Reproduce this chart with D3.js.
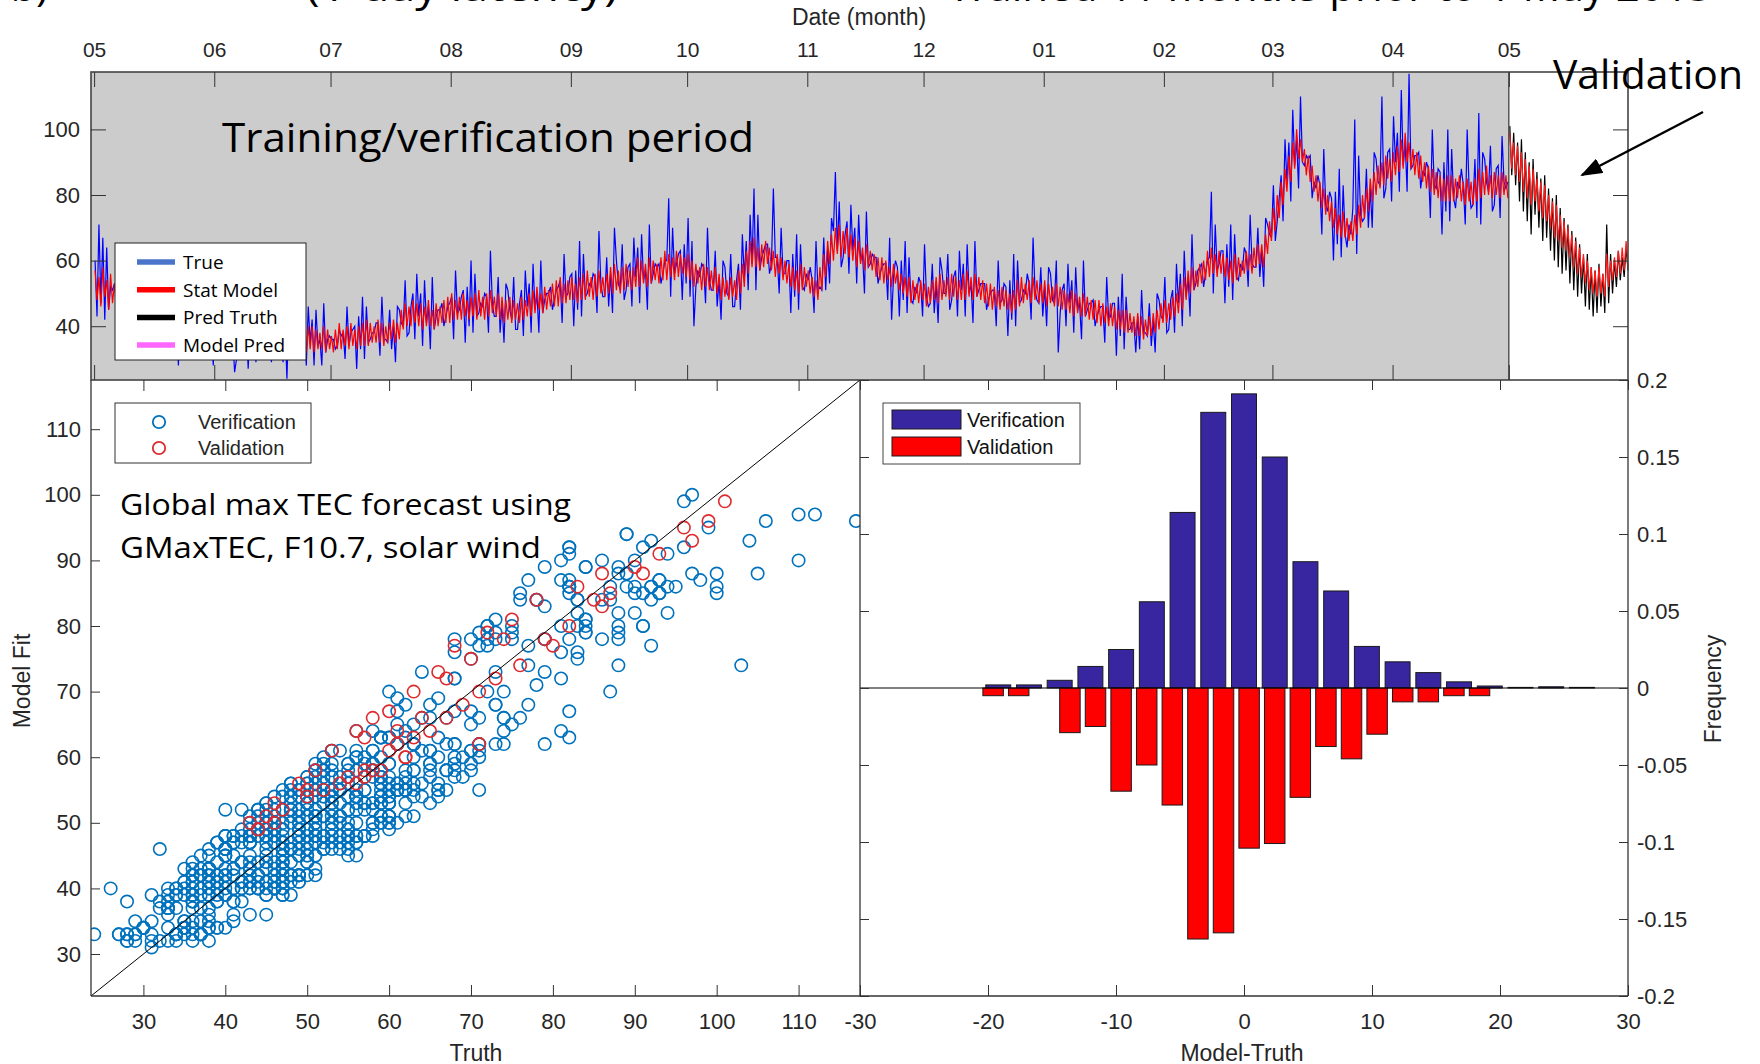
<!DOCTYPE html>
<html>
<head>
<meta charset="utf-8">
<style>
  body { margin: 0; background: #fff; }
  svg text { font-family: "Liberation Sans", Arial, sans-serif; }
  .note { font-family: "Open Sans", "Noto Sans", sans-serif; fill: #000; }
  .axis-title { font-size: 23px; fill: #262626; }
</style>
</head>
<body>
<svg id="chart" width="1760" height="1064"></svg>
<script src="https://d3js.org/d3.v7.min.js"></script>
<script>
// ---- data ----
// top panel: two samples per day, 1 May 2014 .. 30 Apr 2015 (training / verification)
var trueTrain = [
  60,43,71,47,67,42,64,45,52,51,53,50,44,46,
  49,50,52,37,60,47,46,49,53,36,53,41,61,37,
  55,42,41,44,47,49,46,35,58,44,40,40,52,35,
  43,28,48,43,40,38,50,36,36,41,45,33,48,37,
  44,30,47,36,38,28,49,35,38,38,38,37,34,35,
  39,37,26,30,45,34,38,39,41,27,41,31,47,29,
  44,33,34,36,36,38,39,29,47,34,33,31,42,29,
  40,24,44,40,36,35,46,31,34,38,39,28,46,35,
  42,28,45,34,36,28,47,32,36,37,36,36,33,34,
  39,37,38,30,46,34,38,39,40,27,43,33,49,30,
  46,35,36,38,38,41,41,31,49,36,36,35,45,33,
  40,29,46,45,41,40,54,37,38,46,50,36,56,43,
  50,34,54,41,46,33,55,39,43,45,45,47,40,43,
  46,47,49,36,57,44,45,49,51,35,52,40,60,38,
  56,43,44,47,46,50,49,38,63,47,43,43,55,38,
  47,35,53,51,45,42,55,39,39,47,51,37,57,46,
  53,38,59,45,50,38,60,44,48,50,50,52,45,48,
  51,52,54,41,62,49,50,55,56,40,57,45,66,43,
  62,49,50,53,52,56,55,44,69,53,49,49,61,46,
  56,44,70,60,53,51,65,48,51,58,59,46,67,55,
  64,47,68,54,57,45,71,53,56,59,58,59,53,56,
  60,60,79,49,70,56,59,62,63,48,65,53,73,49,
  66,40,52,57,55,59,58,47,70,54,51,51,63,46,
  54,42,60,58,50,49,62,46,46,54,59,45,68,55,
  66,51,74,59,82,51,74,57,61,63,65,65,56,59,
  82,61,61,50,70,56,56,60,60,44,62,49,68,45,
  65,52,51,56,54,58,54,44,66,51,52,51,67,51,
  64,53,73,69,87,63,78,58,61,68,72,56,77,63,
  70,53,74,60,62,50,75,58,59,62,61,61,53,56,
  58,59,59,48,67,42,55,60,58,43,60,48,66,44,
  61,48,47,52,50,55,53,43,65,49,46,47,59,44,
  53,41,61,57,50,50,62,45,48,55,57,43,63,51,
  59,43,65,50,53,41,66,49,51,53,53,53,45,48,
  50,51,51,40,60,47,48,53,52,37,54,42,62,40,
  60,47,48,51,50,56,53,42,67,51,48,47,58,43,
  52,40,58,56,48,47,60,32,44,51,53,40,59,47,
  54,38,58,45,47,36,60,43,45,47,47,48,40,43,
  45,46,46,35,55,42,43,47,47,31,49,37,56,33,
  49,39,39,41,41,32,43,33,51,38,38,37,47,34,
  42,32,50,48,43,42,55,38,39,48,51,38,59,47,
  56,40,63,49,55,43,68,51,53,57,58,59,52,56,
  60,61,81,50,71,57,59,63,63,47,65,52,71,48,
  68,55,54,59,57,64,62,52,74,59,58,58,70,55,
  63,52,73,71,68,67,83,66,72,79,86,72,97,84,
  96,78,106,89,97,82,110,90,89,92,91,92,79,84,
  82,86,83,68,94,77,75,81,79,60,81,65,88,61,
  83,68,64,71,68,76,103,62,92,74,72,73,88,70,
  82,70,93,91,84,83,110,79,82,93,94,78,104,90,
  99,81,112,89,96,81,117,88,89,92,92,93,82,87,
  86,90,88,73,100,83,82,88,87,68,90,75,100,72,
  94,79,76,84,82,88,83,71,100,82,76,77,91,73,
  105,71,93,91,84,81,95,75,77,88,89,73,98,84,
  82,84
];
var statTrain = [
  57,48,55,46,58,49,54,45,56,47,53,46,52,44,
  52,44,53,43,51,45,50,42,52,44,49,43,50,42,
  49,41,48,40,50,42,47,40,48,41,46,40,47,39,
  45,38,44,36,43,37,44,38,42,36,43,37,41,35,
  42,34,41,35,40,33,42,35,41,34,39,33,40,34,
  41,33,40,34,39,33,41,34,40,33,38,32,39,33,
  40,32,39,33,38,32,40,33,39,32,37,31,38,32,
  41,33,40,34,39,34,41,33,40,34,38,32,40,33,
  40,32,39,33,38,33,40,32,39,33,37,32,39,33,
  41,33,39,34,40,33,41,34,39,33,40,34,41,34,
  42,34,41,35,40,35,42,35,41,34,40,35,41,36,
  42,35,41,36,45,39,47,40,46,40,48,41,47,40,
  47,39,46,40,48,40,45,39,47,40,46,41,48,41,
  49,41,50,42,48,42,49,42,50,43,48,42,49,43,
  50,42,51,43,49,42,50,43,51,44,49,43,50,42,
  49,41,48,42,49,41,48,42,47,41,49,42,48,43,
  50,43,51,44,52,45,50,44,52,45,51,46,53,46,
  54,46,55,47,53,47,54,48,55,48,53,47,55,48,
  56,48,57,49,55,48,56,49,57,50,55,49,56,50,
  58,50,59,51,57,50,58,51,59,52,57,51,58,52,
  61,52,60,53,59,52,61,53,60,54,59,53,61,54,
  63,54,62,55,61,54,63,55,62,56,61,55,62,54,
  60,52,59,53,58,51,59,52,58,51,57,51,58,50,
  56,48,55,49,54,48,55,49,54,48,57,50,59,52,
  63,56,66,58,67,58,64,57,65,58,66,59,64,57,
  63,55,62,56,61,54,60,53,59,52,58,51,57,50,
  59,51,58,52,57,50,55,49,54,48,58,51,62,55,
  66,59,68,60,70,62,71,61,69,62,70,61,68,60,
  67,58,66,59,64,57,65,58,63,57,62,55,61,54,
  61,53,60,54,58,52,59,53,57,51,56,50,55,49,
  55,47,54,48,53,47,54,48,53,46,52,47,54,48,
  55,47,56,48,54,49,55,48,56,49,55,48,54,48,
  56,48,57,49,55,48,56,49,55,48,54,47,53,46,
  53,45,52,46,51,45,52,46,51,45,50,44,51,45,
  54,46,55,47,53,48,54,47,55,48,54,47,53,47,
  54,46,53,47,52,46,53,46,52,45,51,45,50,44,
  51,43,50,44,49,43,50,43,49,42,48,42,48,41,
  48,40,47,41,46,40,47,40,46,39,45,39,45,38,
  45,38,44,38,43,37,44,37,43,36,42,37,43,37,
  44,38,45,39,47,41,48,41,47,42,49,43,50,44,
  53,45,55,48,57,50,58,51,57,52,59,53,60,54,
  63,55,64,56,62,55,63,56,62,55,61,54,60,53,
  62,54,61,55,60,56,63,57,62,56,64,58,65,59,
  65,58,68,62,72,66,76,69,80,73,84,77,88,81,
  92,84,96,88,100,91,97,90,94,86,92,84,89,81,
  86,78,84,76,82,74,80,72,78,70,76,68,74,67,
  75,67,73,66,72,66,74,68,77,70,80,73,82,75,
  85,78,87,80,89,82,90,83,92,85,91,84,93,86,
  95,87,97,88,99,90,96,88,94,86,93,85,92,84,
  90,82,89,81,88,80,87,79,86,78,85,78,86,78,
  86,78,85,79,86,78,84,77,85,78,84,77,85,78,
  88,79,87,80,89,80,86,79,87,80,86,79,87,80,
  86,79
];
// validation month (May 2015), two samples per day
var predTruth = [
  101,86,99,83,96,78,97,75,93,72,90,68,91,74,87,70,85,66,86,67,
  82,63,79,60,80,58,76,56,73,57,71,53,69,51,67,49,65,50,61,46,
  62,45,58,43,57,44,59,46,56,44,71,47,62,50,60,52,63,54,61,55,
  64,57
];
var statValid = [
  99,88,96,86,95,84,93,81,91,79,89,77,88,78,85,75,84,73,83,72,
  80,70,78,67,77,66,74,64,72,63,70,61,68,58,66,56,64,55,62,53,
  60,51,58,50,57,49,58,50,56,49,62,52,60,54,61,55,63,56,64,57,
  66,58
];
var monthLabels = ["05", "06", "07", "08", "09", "10", "11", "12", "01", "02", "03", "04", "05"];
var topTicks = [40, 60, 80, 100];
var scatterTicks = [30, 40, 50, 60, 70, 80, 90, 100, 110];

// histogram of Model-Truth
var verCenters = [-19.2, -16.8, -14.4, -12, -9.6, -7.2, -4.8, -2.4, 0, 2.4, 4.8, 7.2, 9.6, 12, 14.4, 16.8, 19.2, 21.6, 24, 26.4];
var verFreq = [0.002, 0.002, 0.005, 0.014, 0.025, 0.056, 0.114, 0.179, 0.191, 0.150, 0.082, 0.063, 0.027, 0.017, 0.010, 0.004, 0.0013, 0.0004, 0.0008, 0.0004];
var valCenters = [-19.6, -17.6, -15.6, -13.6, -11.6, -9.6, -7.6, -5.6, -3.6, -1.6, 0.4, 2.4, 4.4, 6.4, 8.4, 10.4, 12.4, 14.4, 16.4, 18.4];
var valFreq = [-0.005, -0.005, 0, -0.029, -0.025, -0.067, -0.050, -0.076, -0.163, -0.159, -0.104, -0.101, -0.071, -0.038, -0.046, -0.030, -0.009, -0.009, -0.005, -0.005];
var histTicks = [-30, -20, -10, 0, 10, 20, 30];
var histLabels = ["-30", "-20", "-10", "0", "10", "20", "30"];
var freqTicks = [0.2, 0.15, 0.1, 0.05, 0, -0.05, -0.1, -0.15, -0.2];
var freqLabels = ["0.2", "0.15", "0.1", "0.05", "0", "-0.05", "-0.1", "-0.15", "-0.2"];

// ---- layout ----
var box = { left: 91, mid: 860, right: 1628, top: 72, split: 380, bottom: 996 };
var DAY = 864e5;
var T0 = Date.UTC(2014, 4, 1);
var TV = Date.UTC(2015, 4, 1);
var valueDomain = [23.6, 117.5];

var svg = d3.select("#chart");
var defs = svg.append("defs");

function clip(id, x0, y0, x1, y1) {
    defs.append("clipPath").attr("id", id).append("rect")
        .attr("x", x0).attr("y", y0).attr("width", x1 - x0).attr("height", y1 - y0);
}
clip("clipTop", box.left, box.top, box.right + 1, box.split);
clip("clipScatter", box.left, box.split, box.mid, box.bottom);

function styleAxis(g, size) {
    g.attr("font-family", null).attr("font-size", null);
    g.select(".domain").remove();
    g.selectAll(".tick line").attr("stroke", "#333").attr("stroke-width", 1);
    g.selectAll(".tick text").attr("fill", "#262626").style("font-size", (size || 22) + "px");
    return g;
}

// ---- top panel: time series ----
var xT = d3.scaleUtc()
    .domain([new Date(T0 - 0.8 * DAY), new Date(Date.UTC(2015, 5, 1))])
    .range([box.left, box.right + 1]);
var yT = d3.scaleLinear().domain(valueDomain).range([box.split, box.top]);
var monthDates = d3.utcMonth.range(new Date(T0), new Date(TV + DAY));

svg.append("rect")
    .attr("x", box.left).attr("y", box.top)
    .attr("width", xT(new Date(TV)) - box.left).attr("height", box.split - box.top)
    .attr("fill", "#cccccc");

function halfDay(start) {
    return function(d, i) { return xT(new Date(start + i * DAY / 2 + DAY / 4)); };
}
var trainLine = d3.line().x(halfDay(T0)).y(function(d) { return yT(d); });
var validLine = d3.line().x(halfDay(TV)).y(function(d) { return yT(d); });

var series = svg.append("g").attr("clip-path", "url(#clipTop)");
series.append("path").datum(trueTrain).attr("d", trainLine)
    .attr("fill", "none").attr("stroke", "#0000ff").attr("stroke-width", 1.2);
series.append("path").datum(statTrain).attr("d", trainLine)
    .attr("fill", "none").attr("stroke", "#ff0000").attr("stroke-width", 1.2);
series.append("path").datum(predTruth).attr("d", validLine)
    .attr("fill", "none").attr("stroke", "#000").attr("stroke-width", 1.2);
series.append("path").datum(statValid).attr("d", validLine)
    .attr("fill", "none").attr("stroke", "#ff1a1a").attr("stroke-width", 1.2);

// frame and ticks
svg.append("line")
    .attr("x1", xT(new Date(TV))).attr("x2", xT(new Date(TV)))
    .attr("y1", box.top).attr("y2", box.split)
    .attr("stroke", "#333").attr("stroke-width", 1.2);
svg.append("rect")
    .attr("x", box.left).attr("y", box.top)
    .attr("width", box.right - box.left).attr("height", box.split - box.top)
    .attr("fill", "none").attr("stroke", "#444").attr("stroke-width", 1.6);

styleAxis(svg.append("g").attr("transform", "translate(0,57)")
    .call(d3.axisTop(xT).tickValues(monthDates).tickSize(0).tickPadding(0)
        .tickFormat(function(d, i) { return monthLabels[i]; })), 21);
styleAxis(svg.append("g").attr("transform", "translate(0," + box.top + ")")
    .call(d3.axisTop(xT).tickValues(monthDates).tickSizeInner(-15).tickSizeOuter(0).tickFormat("")));
styleAxis(svg.append("g").attr("transform", "translate(0," + box.split + ")")
    .call(d3.axisBottom(xT).tickValues(monthDates).tickSizeInner(-15).tickSizeOuter(0).tickFormat("")));
styleAxis(svg.append("g").attr("transform", "translate(" + box.left + ",0)")
    .call(d3.axisLeft(yT).tickValues(topTicks).tickSizeInner(-15).tickSizeOuter(0).tickPadding(11)));
styleAxis(svg.append("g").attr("transform", "translate(" + box.right + ",0)")
    .call(d3.axisRight(yT).tickValues(topTicks).tickSizeInner(-15).tickSizeOuter(0).tickFormat("")));

svg.append("text").attr("class", "axis-title")
    .attr("x", 859).attr("y", 25).attr("text-anchor", "middle").text("Date (month)");

// legend of the top panel
var legTop = [
    { label: "True", line: "#4a74c9", text: "#2f80c0" },
    { label: "Stat Model", line: "#ff0000", text: "#ec1c24" },
    { label: "Pred Truth", line: "#000000", text: "#000000" },
    { label: "Model Pred", line: "#ff66ff", text: "#f47ef4" }
];
var lt = svg.append("g").attr("transform", "translate(115,243)");
lt.append("rect").attr("width", 191).attr("height", 117)
    .attr("fill", "#fff").attr("stroke", "#222").attr("stroke-width", 1);
lt.selectAll("g.item").data(legTop).enter().append("g")
    .attr("transform", function(d, i) { return "translate(0," + (19 + i * 27.7) + ")"; })
    .each(function(d) {
        var g = d3.select(this);
        g.append("line").attr("x1", 22).attr("x2", 60)
            .attr("stroke", d.line).attr("stroke-width", 5.5);
        g.append("text").attr("class", "note").attr("x", 68).attr("y", 7)
            .style("font-size", "19px").attr("fill", d.text).text(d.label);
    });

// annotations
svg.append("text").attr("class", "note").attr("x", 222).attr("y", 152)
    .attr("textLength", 532).attr("lengthAdjust", "spacingAndGlyphs")
    .style("font-size", "41px").text("Training/verification period");
svg.append("text").attr("class", "note").attr("x", 1553).attr("y", 89)
    .attr("textLength", 190).attr("lengthAdjust", "spacingAndGlyphs")
    .style("font-size", "41px").text("Validation");
defs.append("marker").attr("id", "head")
    .attr("markerUnits", "userSpaceOnUse").attr("markerWidth", 22).attr("markerHeight", 16)
    .attr("refX", 20).attr("refY", 8).attr("orient", "auto")
    .append("path").attr("d", "M0,0 L22,8 L0,16 Z").attr("fill", "#000");
svg.append("line").attr("x1", 1703).attr("y1", 112).attr("x2", 1582).attr("y2", 175)
    .attr("stroke", "#000").attr("stroke-width", 2.5).attr("marker-end", "url(#head)");

// slide titles cropped at the top edge, as in the source picture
svg.append("text").attr("class", "note").attr("x", 48).attr("y", 1)
    .attr("text-anchor", "end").style("font-size", "41px").text("b)");
svg.append("text").attr("class", "note").attr("x", 306).attr("y", 1)
    .attr("textLength", 312).attr("lengthAdjust", "spacingAndGlyphs")
    .style("font-size", "41px").text("(1-day latency)");
svg.append("text").attr("class", "note").attr("x", 948).attr("y", 1)
    .attr("textLength", 764).attr("lengthAdjust", "spacingAndGlyphs")
    .style("font-size", "41px").text("Trained 11 months prior to 1 May 2015");

// ---- bottom left: scatter ----
var xS = d3.scaleLinear().domain(valueDomain).range([box.left, box.mid]);
var yS = d3.scaleLinear().domain(valueDomain).range([box.bottom, box.split]);

var pts = svg.append("g").attr("clip-path", "url(#clipScatter)");
pts.selectAll("circle.ver").data(d3.zip(trueTrain, statTrain)).enter().append("circle")
    .attr("cx", function(d) { return xS(d[0]); })
    .attr("cy", function(d) { return yS(d[1]); })
    .attr("r", 6.2).attr("fill", "none").attr("stroke", "#0072bd").attr("stroke-width", 1.6);
pts.selectAll("circle.val").data(d3.zip(predTruth, statValid)).enter().append("circle")
    .attr("cx", function(d) { return xS(d[0]); })
    .attr("cy", function(d) { return yS(d[1]); })
    .attr("r", 6.2).attr("fill", "none").attr("stroke", "#dd2a2e").attr("stroke-width", 1.6);
pts.append("line")
    .attr("x1", xS(valueDomain[0])).attr("y1", yS(valueDomain[0]))
    .attr("x2", xS(valueDomain[1])).attr("y2", yS(valueDomain[1]))
    .attr("stroke", "#000").attr("stroke-width", 1);

styleAxis(svg.append("g").attr("transform", "translate(0," + box.bottom + ")")
    .call(d3.axisBottom(xS).tickValues(scatterTicks).tickSizeInner(-11).tickSizeOuter(0).tickPadding(17)));
styleAxis(svg.append("g").attr("transform", "translate(0," + box.split + ")")
    .call(d3.axisTop(xS).tickValues(scatterTicks).tickSizeInner(-11).tickSizeOuter(0).tickFormat("")));
styleAxis(svg.append("g").attr("transform", "translate(" + box.left + ",0)")
    .call(d3.axisLeft(yS).tickValues(scatterTicks).tickSizeInner(-9).tickSizeOuter(0).tickPadding(10)));

svg.append("text").attr("class", "axis-title")
    .attr("x", 476).attr("y", 1061).attr("text-anchor", "middle").text("Truth");
svg.append("text").attr("class", "axis-title")
    .attr("transform", "translate(30,681) rotate(-90)").attr("text-anchor", "middle").text("Model Fit");

svg.append("text").attr("class", "note").attr("x", 120).attr("y", 515)
    .attr("textLength", 451).attr("lengthAdjust", "spacingAndGlyphs")
    .style("font-size", "30px").text("Global max TEC forecast using");
svg.append("text").attr("class", "note").attr("x", 120).attr("y", 558)
    .attr("textLength", 421).attr("lengthAdjust", "spacingAndGlyphs")
    .style("font-size", "30px").text("GMaxTEC, F10.7, solar wind");

var ls = svg.append("g").attr("transform", "translate(115,403)");
ls.append("rect").attr("width", 196).attr("height", 60)
    .attr("fill", "#fff").attr("stroke", "#333").attr("stroke-width", 1);
[["Verification", "#0072bd"], ["Validation", "#dd2a2e"]].forEach(function(d, i) {
    ls.append("circle").attr("cx", 44).attr("cy", 19 + i * 26).attr("r", 6.2)
        .attr("fill", "none").attr("stroke", d[1]).attr("stroke-width", 1.8);
    ls.append("text").attr("x", 83).attr("y", 26 + i * 26)
        .style("font-size", "20px").attr("fill", "#262626").text(d[0]);
});

// ---- bottom right: histogram ----
var xH = d3.scaleLinear().domain([-30, 30]).range([box.mid, box.right]);
var yH = d3.scaleLinear().domain([-0.2, 0.2]).range([box.bottom, box.split]);

function bars(centers, freq, width, color) {
    svg.append("g").selectAll("rect").data(d3.zip(centers, freq)).enter().append("rect")
        .attr("x", function(d) { return xH(d[0] - width / 2); })
        .attr("width", xH(width) - xH(0))
        .attr("y", function(d) { return yH(Math.max(0, d[1])); })
        .attr("height", function(d) { return Math.abs(yH(d[1]) - yH(0)); })
        .attr("fill", color).attr("stroke", "#1a1a1a").attr("stroke-width", 1);
}
bars(verCenters, verFreq, 1.95, "#3826a0");
bars(valCenters, valFreq, 1.6, "#ff0000");
svg.append("line").attr("x1", box.mid).attr("x2", box.right)
    .attr("y1", yH(0)).attr("y2", yH(0)).attr("stroke", "#000").attr("stroke-width", 1);

styleAxis(svg.append("g").attr("transform", "translate(0," + box.bottom + ")")
    .call(d3.axisBottom(xH).tickValues(histTicks).tickSizeInner(-11).tickSizeOuter(0).tickPadding(17)
        .tickFormat(function(d, i) { return histLabels[i]; })));
styleAxis(svg.append("g").attr("transform", "translate(0," + box.split + ")")
    .call(d3.axisTop(xH).tickValues(histTicks).tickSizeInner(-10).tickSizeOuter(0).tickFormat("")));
styleAxis(svg.append("g").attr("transform", "translate(" + box.right + ",0)")
    .call(d3.axisRight(yH).tickValues(freqTicks).tickSizeInner(-9).tickSizeOuter(0).tickPadding(9)
        .tickFormat(function(d, i) { return freqLabels[i]; })));
styleAxis(svg.append("g").attr("transform", "translate(" + box.mid + ",0)")
    .call(d3.axisLeft(yH).tickValues(freqTicks).tickSizeInner(-9).tickSizeOuter(0).tickFormat("")));

svg.append("text").attr("class", "axis-title")
    .attr("x", 1242).attr("y", 1061).attr("text-anchor", "middle").text("Model-Truth");
svg.append("text").attr("class", "axis-title")
    .attr("transform", "translate(1721,689) rotate(-90)").attr("text-anchor", "middle").text("Frequency");

var lh = svg.append("g").attr("transform", "translate(883,403)");
lh.append("rect").attr("width", 197).attr("height", 61)
    .attr("fill", "#fff").attr("stroke", "#444").attr("stroke-width", 1);
[["Verification", "#3826a0"], ["Validation", "#ff0000"]].forEach(function(d, i) {
    lh.append("rect").attr("x", 9).attr("y", 7 + i * 27).attr("width", 69).attr("height", 19)
        .attr("fill", d[1]).attr("stroke", "#1a1a1a").attr("stroke-width", 1);
    lh.append("text").attr("x", 84).attr("y", 24 + i * 27)
        .style("font-size", "20px").attr("fill", "#111").text(d[0]);
});

// panel borders of the lower row
var frame = svg.append("g").attr("stroke", "#333").attr("stroke-width", 1.3);
frame.append("line").attr("x1", box.left).attr("x2", box.left).attr("y1", box.split).attr("y2", box.bottom);
frame.append("line").attr("x1", box.left).attr("x2", box.right).attr("y1", box.bottom).attr("y2", box.bottom);
frame.append("line").attr("x1", box.mid).attr("x2", box.mid).attr("y1", box.split).attr("y2", box.bottom);
frame.append("line").attr("x1", box.right).attr("x2", box.right).attr("y1", box.split).attr("y2", box.bottom);
</script>
</body>
</html>
